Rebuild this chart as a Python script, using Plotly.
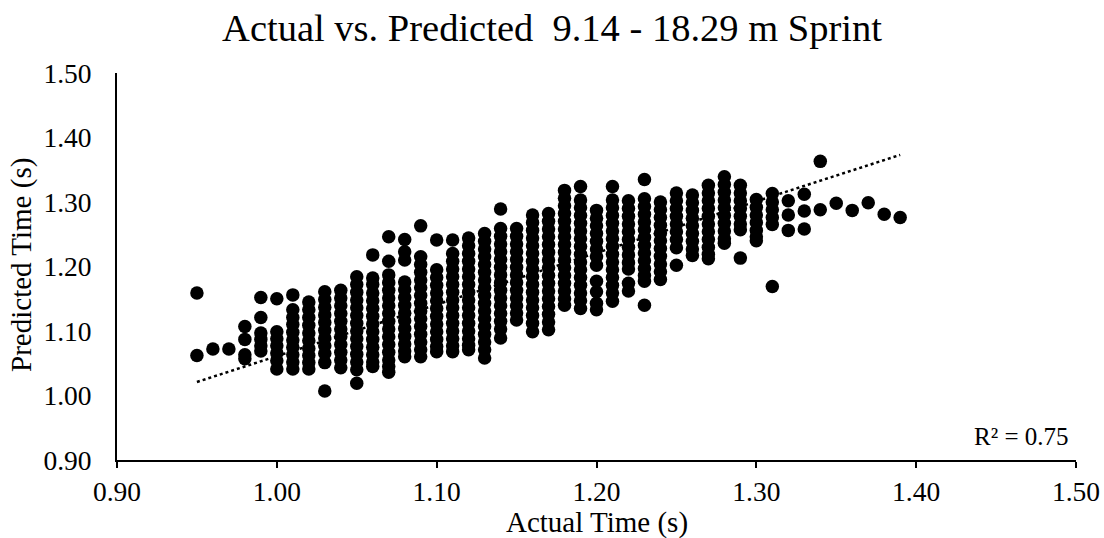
import plotly.graph_objects as go

# Actual sprint times (s) for each column of points
actual_times = [0.95, 0.96, 0.97, 0.98, 0.99, 1.00, 1.01, 1.02, 1.03, 1.04,
                1.05, 1.06, 1.07, 1.08, 1.09, 1.10, 1.11, 1.12, 1.13, 1.14,
                1.15, 1.16, 1.17, 1.18, 1.19, 1.20, 1.21, 1.22, 1.23, 1.24,
                1.25, 1.26, 1.27, 1.28, 1.29, 1.30, 1.31, 1.32, 1.33, 1.34,
                1.35, 1.36, 1.37, 1.38, 1.39]

# Predicted times (s) observed at each actual time
predicted_times = [
    [1.159, 1.062],
    [1.072],
    [1.072],
    [1.107, 1.087, 1.063, 1.057],
    [1.152, 1.121, 1.097, 1.087, 1.077, 1.069],
    [1.150, 1.099, 1.088, 1.077, 1.066, 1.054, 1.041],
    [1.156, 1.133, 1.121, 1.110, 1.098, 1.086, 1.075, 1.063, 1.052, 1.041],
    [1.145, 1.133, 1.121, 1.109, 1.097, 1.085, 1.073, 1.062, 1.051, 1.041],
    [1.161, 1.149, 1.137, 1.125, 1.113, 1.101, 1.089, 1.077, 1.065, 1.051, 1.007],
    [1.163, 1.151, 1.139, 1.127, 1.115, 1.103, 1.091, 1.079, 1.067, 1.055, 1.043],
    [1.184, 1.172, 1.160, 1.148, 1.136, 1.124, 1.112, 1.100, 1.088, 1.076, 1.064, 1.052, 1.040, 1.019],
    [1.218, 1.182, 1.172, 1.159, 1.147, 1.135, 1.123, 1.111, 1.099, 1.087, 1.075, 1.063, 1.052, 1.045],
    [1.246, 1.208, 1.187, 1.175, 1.163, 1.151, 1.139, 1.127, 1.115, 1.103, 1.091, 1.079, 1.067, 1.055, 1.045, 1.036],
    [1.242, 1.223, 1.210, 1.176, 1.164, 1.152, 1.140, 1.128, 1.116, 1.104, 1.092, 1.080, 1.069, 1.060],
    [1.263, 1.215, 1.203, 1.191, 1.179, 1.167, 1.155, 1.143, 1.131, 1.119, 1.107, 1.095, 1.083, 1.071, 1.060],
    [1.241, 1.195, 1.183, 1.171, 1.159, 1.147, 1.135, 1.123, 1.111, 1.099, 1.087, 1.076, 1.068],
    [1.241, 1.220, 1.208, 1.196, 1.184, 1.172, 1.160, 1.148, 1.136, 1.124, 1.112, 1.100, 1.088, 1.077, 1.068],
    [1.244, 1.232, 1.220, 1.208, 1.196, 1.184, 1.172, 1.160, 1.148, 1.136, 1.124, 1.112, 1.100, 1.088, 1.078, 1.071],
    [1.251, 1.239, 1.227, 1.215, 1.203, 1.191, 1.179, 1.167, 1.155, 1.143, 1.131, 1.119, 1.107, 1.095, 1.083, 1.071, 1.058],
    [1.289, 1.259, 1.247, 1.235, 1.223, 1.211, 1.199, 1.187, 1.175, 1.163, 1.151, 1.139, 1.127, 1.115, 1.103, 1.089],
    [1.259, 1.247, 1.235, 1.223, 1.211, 1.199, 1.187, 1.175, 1.163, 1.151, 1.139, 1.128, 1.117],
    [1.280, 1.268, 1.256, 1.244, 1.232, 1.220, 1.208, 1.196, 1.184, 1.172, 1.160, 1.148, 1.136, 1.124, 1.112, 1.099],
    [1.282, 1.270, 1.258, 1.246, 1.234, 1.222, 1.210, 1.198, 1.186, 1.174, 1.162, 1.150, 1.138, 1.126, 1.114, 1.102],
    [1.318, 1.306, 1.294, 1.282, 1.270, 1.258, 1.246, 1.234, 1.222, 1.210, 1.198, 1.186, 1.174, 1.162, 1.150, 1.140],
    [1.324, 1.303, 1.291, 1.279, 1.267, 1.255, 1.243, 1.231, 1.219, 1.207, 1.195, 1.183, 1.171, 1.159, 1.147, 1.135],
    [1.287, 1.275, 1.263, 1.251, 1.239, 1.227, 1.215, 1.202, 1.177, 1.161, 1.143, 1.133],
    [1.324, 1.303, 1.291, 1.279, 1.267, 1.255, 1.243, 1.231, 1.219, 1.207, 1.195, 1.183, 1.171, 1.159, 1.146],
    [1.302, 1.290, 1.278, 1.266, 1.254, 1.242, 1.230, 1.218, 1.206, 1.196, 1.174, 1.162],
    [1.335, 1.305, 1.293, 1.281, 1.269, 1.257, 1.245, 1.233, 1.221, 1.209, 1.197, 1.186, 1.177, 1.140],
    [1.300, 1.288, 1.276, 1.264, 1.252, 1.240, 1.228, 1.216, 1.204, 1.192, 1.180],
    [1.314, 1.302, 1.290, 1.278, 1.266, 1.254, 1.242, 1.229, 1.202],
    [1.311, 1.299, 1.287, 1.275, 1.263, 1.251, 1.239, 1.227, 1.217],
    [1.326, 1.314, 1.302, 1.290, 1.278, 1.266, 1.254, 1.242, 1.230, 1.219, 1.212],
    [1.339, 1.327, 1.315, 1.303, 1.291, 1.279, 1.267, 1.255, 1.243, 1.236],
    [1.326, 1.314, 1.302, 1.290, 1.278, 1.266, 1.257, 1.213],
    [1.304, 1.292, 1.280, 1.268, 1.256, 1.246, 1.240],
    [1.313, 1.300, 1.288, 1.276, 1.265, 1.169],
    [1.302, 1.280, 1.256],
    [1.312, 1.286, 1.258],
    [1.363, 1.288],
    [1.298],
    [1.287],
    [1.299],
    [1.281],
    [1.276],
]

# Linear trendline endpoints
trend_x = [0.95, 1.39]
trend_y = [1.021, 1.373]
r_squared_label = "R² = 0.75"

x_ticks = [0.90, 1.00, 1.10, 1.20, 1.30, 1.40, 1.50]
y_ticks = [0.90, 1.00, 1.10, 1.20, 1.30, 1.40, 1.50]

xs, ys = [], []
for a, preds in zip(actual_times, predicted_times):
    for p in preds:
        xs.append(a)
        ys.append(p)

FONT = "Liberation Serif"

fig = go.Figure()
fig.add_trace(go.Scatter(
    x=trend_x, y=trend_y, mode="lines",
    line=dict(color="black", width=2.5, dash="dot"),
    showlegend=False, hoverinfo="skip",
))
fig.add_trace(go.Scatter(
    x=xs, y=ys, mode="markers",
    marker=dict(color="black", size=13.5, line=dict(width=0)),
    showlegend=False,
))

fig.update_layout(
    width=1104, height=538,
    margin=dict(l=117, r=28, t=73, b=78, autoexpand=False),
    paper_bgcolor="white", plot_bgcolor="white",
    font=dict(family=FONT, color="black"),
    title=dict(text="Actual vs. Predicted  9.14 - 18.29 m Sprint",
               x=0.5, xanchor="center", y=1 - 28 / 538, yanchor="middle",
               xref="container", font=dict(family=FONT, size=38.5, color="black")),
    xaxis=dict(range=[0.90, 1.50], tickvals=x_ticks, tickformat=".2f",
               showgrid=False, zeroline=False, showline=True, automargin=False,
               linecolor="black", linewidth=2, ticks="outside",
               ticklen=6, tickwidth=2, tickcolor="black",
               ticklabelstandoff=0,
               tickfont=dict(family=FONT, size=27.5)),
    yaxis=dict(range=[0.90, 1.50], tickvals=y_ticks, tickformat=".2f",
               showgrid=False, zeroline=False, showline=True, automargin=False,
               linecolor="black", linewidth=2, ticks="",
               ticklabelstandoff=18,
               tickfont=dict(family=FONT, size=27.5)),
    annotations=[
        dict(text=r_squared_label, x=0.995, y=0.02, xref="paper", yref="paper",
             xanchor="right", yanchor="bottom", showarrow=False,
             font=dict(family=FONT, size=25, color="black")),
        dict(text="Actual Time (s)", x=0.5, y=0, xref="paper", yref="paper",
             xanchor="center", yanchor="middle", yshift=-62, showarrow=False,
             font=dict(family=FONT, size=29, color="black")),
        dict(text="Predicted Time (s)", x=0, y=0.504, xref="paper", yref="paper",
             xanchor="center", yanchor="middle", xshift=-95, textangle=-90,
             showarrow=False, font=dict(family=FONT, size=29, color="black")),
    ],
)

fig.write_html("out.html",
               config={"displayModeBar": False},
               post_script="document.body.style.margin='0';document.body.style.overflow='hidden';")
